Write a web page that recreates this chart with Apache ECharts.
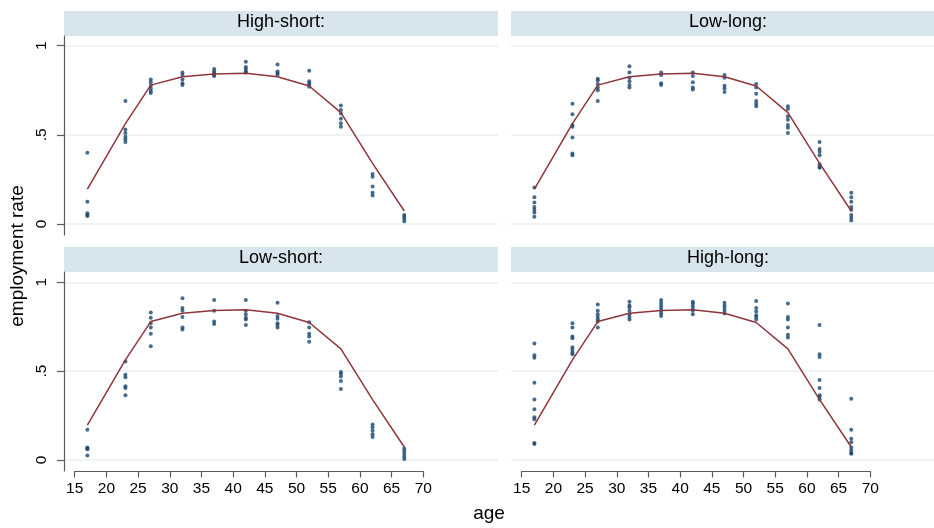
<!DOCTYPE html>
<html>
<head>
<meta charset="utf-8">
<script src="https://cdn.jsdelivr.net/npm/echarts@6/dist/echarts.min.js"></script>
<style>html,body{margin:0;padding:0;background:#fff}#c{width:934px;height:528px}</style>
</head>
<body>
<div id="c"></div>
<script>
// ---- data ----
const ages = [17, 23, 27, 32, 37, 42, 47, 52, 57, 62, 67];
const fitted = [0.196, 0.563, 0.779, 0.826, 0.841, 0.845, 0.826, 0.774, 0.625, 0.34, 0.073];
const panelTitles = ['High-short:', 'Low-long:', 'Low-short:', 'High-long:'];
const yTickValues = [0, 0.5, 1];
const yTickLabels = ['0', '.5', '1'];
const xTickLabels = ['15','20','25','30','35','40','45','50','55','60','65','70'];

const highShort = [
  [0.40, 0.125, 0.06, 0.05, 0.045],
  [0.69, 0.53, 0.51, 0.49, 0.475, 0.46],
  [0.81, 0.795, 0.775, 0.76, 0.745, 0.735],
  [0.85, 0.835, 0.81, 0.79, 0.78],
  [0.87, 0.855, 0.845, 0.835, 0.83],
  [0.91, 0.88, 0.87, 0.855, 0.85],
  [0.895, 0.855, 0.845, 0.835],
  [0.86, 0.80, 0.79, 0.78, 0.77],
  [0.665, 0.64, 0.62, 0.59, 0.565, 0.545],
  [0.28, 0.265, 0.21, 0.175, 0.16],
  [0.05, 0.04, 0.03, 0.015]
];
const lowLong = [
  [0.205, 0.15, 0.12, 0.095, 0.08, 0.065, 0.04],
  [0.675, 0.615, 0.555, 0.545, 0.485, 0.395, 0.385],
  [0.815, 0.805, 0.785, 0.765, 0.75, 0.69],
  [0.885, 0.85, 0.82, 0.80, 0.78, 0.765],
  [0.85, 0.835, 0.79, 0.78],
  [0.85, 0.83, 0.795, 0.765, 0.755],
  [0.835, 0.82, 0.775, 0.76, 0.74],
  [0.785, 0.765, 0.73, 0.69, 0.675, 0.66],
  [0.66, 0.645, 0.605, 0.585, 0.555, 0.54, 0.51],
  [0.46, 0.42, 0.405, 0.385, 0.335, 0.32, 0.315],
  [0.175, 0.15, 0.125, 0.095, 0.08, 0.05, 0.035, 0.02]
];
const lowShort = [
  [0.17, 0.07, 0.065, 0.06, 0.025],
  [0.555, 0.48, 0.465, 0.415, 0.405, 0.365],
  [0.83, 0.80, 0.77, 0.745, 0.71, 0.64],
  [0.91, 0.855, 0.84, 0.805, 0.745, 0.735],
  [0.90, 0.84, 0.78, 0.765],
  [0.90, 0.84, 0.82, 0.80, 0.79, 0.76],
  [0.885, 0.81, 0.795, 0.77, 0.76, 0.745],
  [0.775, 0.745, 0.71, 0.695, 0.665],
  [0.495, 0.485, 0.47, 0.445, 0.40],
  [0.20, 0.185, 0.165, 0.145, 0.13],
  [0.065, 0.05, 0.035, 0.02, 0.005]
];
const highLong = [
  [0.655, 0.59, 0.575, 0.435, 0.34, 0.285, 0.24, 0.23, 0.095, 0.09],
  [0.77, 0.745, 0.695, 0.685, 0.635, 0.62, 0.605, 0.595],
  [0.875, 0.84, 0.82, 0.805, 0.79, 0.78, 0.745],
  [0.89, 0.87, 0.86, 0.84, 0.82, 0.805, 0.79],
  [0.90, 0.885, 0.87, 0.855, 0.84, 0.825, 0.81],
  [0.89, 0.88, 0.865, 0.85, 0.84, 0.82],
  [0.885, 0.87, 0.855, 0.84, 0.825],
  [0.895, 0.855, 0.835, 0.815, 0.805, 0.79],
  [0.88, 0.805, 0.79, 0.745, 0.705, 0.69],
  [0.76, 0.595, 0.58, 0.45, 0.405, 0.365, 0.355, 0.34],
  [0.345, 0.17, 0.12, 0.10, 0.07, 0.055, 0.04, 0.035]
];
const panels = [highShort, lowLong, lowShort, highLong];

// ---- build chart ----
const FONT = '"Liberation Sans", Arial, sans-serif';
const AXIS_COLOR = '#5a5a5a';
const DOT = '#1a476f';
const LINE = '#90353b';
const STRIP = '#d9e5ec';
const GRIDLINE = '#e9eff2';

const colLeft = [64, 511];
const colW = [434, 423];            // right column is cut by the page edge
const rowFrameTop = [36, 272];
const frameH = 199;
const rowDataTop = [45.7, 282.3];
const rowDataH = [178.3, 177.7];
const xMinFull = 13.31;
const pxPerYear = 434 / (81.79 - 13.31);
const colXMax = colW.map(w => xMinFull + w / pxPerYear);

const grid = [], xAxis = [], yAxis = [], series = [], graphic = [];

panels.forEach((pd, p) => {
  const col = p % 2, row = Math.floor(p / 2);
  grid.push({left: colLeft[col], top: rowDataTop[row], width: colW[col], height: rowDataH[row]});
  xAxis.push({gridIndex: p, type: 'value', min: xMinFull, max: colXMax[col], show: false});
  yAxis.push({
    gridIndex: p, type: 'value', min: 0, max: 1, interval: 0.5,
    axisLine: {show: false},
    axisTick: {show: col === 0, length: 7, lineStyle: {color: AXIS_COLOR, width: 1.2}},
    axisLabel: {
      show: col === 0, rotate: 90, margin: 14, color: '#000', fontSize: 15.5, fontFamily: FONT,
      formatter: v => { const i = yTickValues.indexOf(v); return i >= 0 ? yTickLabels[i] : ''; }
    },
    splitLine: {show: true, lineStyle: {color: GRIDLINE, width: 1.5}}
  });
  const pts = [];
  pd.forEach((vals, i) => vals.forEach(v => pts.push([ages[i], v])));
  series.push({
    type: 'scatter', xAxisIndex: p, yAxisIndex: p, data: pts,
    symbol: 'circle', symbolSize: 4, itemStyle: {color: DOT}, silent: true, z: 3
  });
  series.push({
    type: 'line', xAxisIndex: p, yAxisIndex: p, data: ages.map((a, i) => [a, fitted[i]]),
    symbol: 'none', lineStyle: {color: LINE, width: 1.5}, silent: true, z: 4
  });
  graphic.push({
    type: 'rect', shape: {x: colLeft[col], y: rowFrameTop[row] - 25, width: 434, height: 25},
    style: {fill: STRIP}, silent: true
  });
  graphic.push({
    type: 'text', x: colLeft[col] + 217, y: rowFrameTop[row] - 13.5,
    style: {text: panelTitles[p], fill: '#000', font: '18px ' + FONT, textAlign: 'center', textVerticalAlign: 'middle'},
    silent: true
  });
});

// frame grids for the y axis line
panels.forEach((pd, p) => {
  const col = p % 2, row = Math.floor(p / 2);
  const gi = grid.length;
  grid.push({left: colLeft[col], top: rowFrameTop[row], width: colW[col], height: frameH});
  xAxis.push({gridIndex: gi, type: 'value', min: 0, max: 1, show: false});
  yAxis.push({
    gridIndex: gi, type: 'value', min: 0, max: 1, show: col === 0,
    axisLine: {show: true, lineStyle: {color: AXIS_COLOR, width: 1.2}},
    axisTick: {show: false}, axisLabel: {show: false}, splitLine: {show: false}
  });
});

// x axis grids for bottom row
[0, 1].forEach(col => {
  const gi = grid.length;
  const x15 = colLeft[col] + (15 - xMinFull) * pxPerYear;
  const x70 = colLeft[col] + (70 - xMinFull) * pxPerYear;
  grid.push({left: x15, top: 470.5, width: x70 - x15, height: 1});
  xAxis.push({
    gridIndex: gi, type: 'value', min: 15, max: 70, interval: 5, position: 'bottom',
    axisLine: {show: true, lineStyle: {color: AXIS_COLOR, width: 1.2}},
    axisTick: {show: true, length: 6, lineStyle: {color: AXIS_COLOR, width: 1.2}},
    axisLabel: {
      show: true, margin: 9, color: '#000', fontSize: 15.5, fontFamily: FONT,
      formatter: v => xTickLabels[Math.round((v - 15) / 5)]
    },
    splitLine: {show: false}
  });
  yAxis.push({gridIndex: gi, type: 'value', min: 0, max: 1, show: false});
});

graphic.push({
  type: 'text', x: 18, y: 256, rotation: Math.PI / 2,
  style: {text: 'employment rate', fill: '#000', font: '19px ' + FONT, textAlign: 'center', textVerticalAlign: 'middle'},
  silent: true
});
graphic.push({
  type: 'text', x: 489, y: 514,
  style: {text: 'age', fill: '#000', font: '19px ' + FONT, textAlign: 'center', textVerticalAlign: 'middle'},
  silent: true
});

const chart = echarts.init(document.getElementById('c'), null, {renderer: 'canvas'});
chart.setOption({
  animation: false,
  backgroundColor: '#ffffff',
  grid, xAxis, yAxis, series,
  graphic: {elements: graphic}
});
</script>
</body>
</html>
